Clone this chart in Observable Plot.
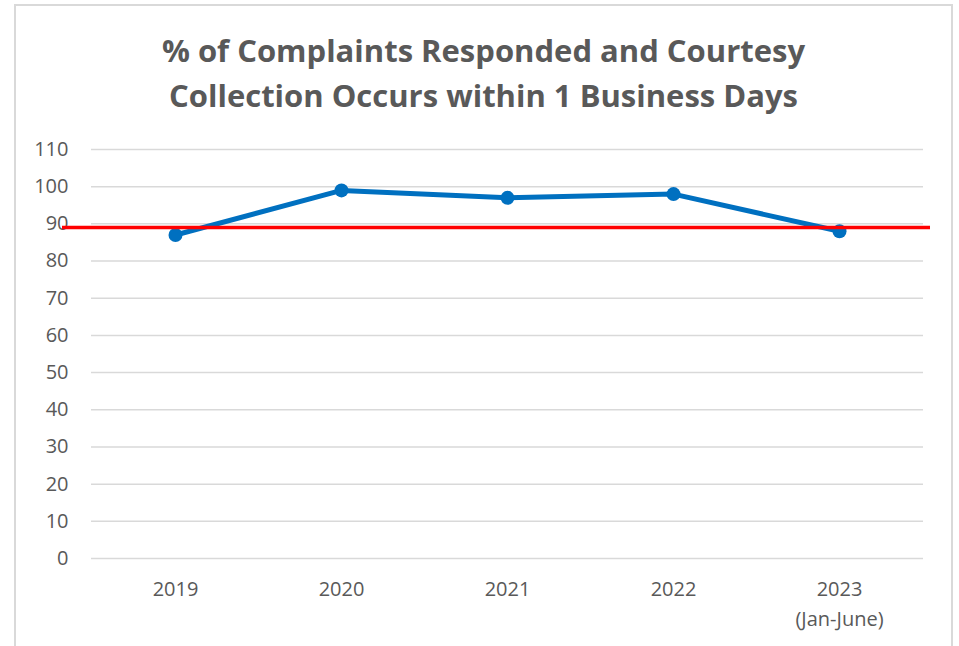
<!DOCTYPE html>
<html><head><meta charset="utf-8">
<script src="https://cdn.jsdelivr.net/npm/d3@7"></script>
<script src="https://cdn.jsdelivr.net/npm/@observablehq/plot@0.6"></script>
<style>
body{margin:0;background:#fff;}
#wrap{position:relative;width:959px;height:646px;overflow:hidden;background:#fff;}
#frame{position:absolute;left:14px;top:4px;width:939px;height:700px;border:2px solid #d9d9d9;box-sizing:border-box;}
#title{position:absolute;left:14px;width:939px;top:28px;text-align:center;font-family:"Open Sans";font-weight:bold;font-size:31px;color:#595959;line-height:45px;}
#chart{position:absolute;left:0;top:130px;}
</style></head><body>
<div id="wrap"><div id="frame"></div>
<div id="title">% of Complaints Responded and Courtesy<br>Collection Occurs within 1 Business Days</div>
<div id="chart"></div></div>
<script>
const years = ["2019", "2020", "2021", "2022", "2023"];
const yearLabels = ["2019", "2020", "2021", "2022", "2023\n(Jan-June)"];
const values = [87, 99, 97, 98, 88];
const target = 89;
const yTicks = [0, 10, 20, 30, 40, 50, 60, 70, 80, 90, 100, 110];

const data = years.map((y, i) => ({year: y, value: values[i]}));

const chart = Plot.plot({
  width: 959, height: 516,
  marginTop: 19, marginBottom: 88, marginLeft: 91, marginRight: 36,
  style: {fontFamily: "Open Sans", fontSize: "20px", color: "#595959", background: "transparent", overflow: "visible"},
  x: {type: "point", domain: years, padding: 0.5, label: null},
  y: {domain: [0, 110], label: null},
  marks: [
    Plot.gridY(yTicks, {stroke: "#d9d9d9", strokeOpacity: 1, strokeWidth: 1.5}),
    Plot.axisY(yTicks, {tickSize: 0, tickPadding: 23, label: null, fill: "#595959"}),
    Plot.axisX({tickSize: 0, tickPadding: 16, label: null, fill: "#595959", lineHeight: 1.5,
      tickFormat: d => yearLabels[years.indexOf(d)]}),
    Plot.line(data, {x: "year", y: "value", stroke: "#0070c0", strokeWidth: 5}),
    Plot.dot(data, {x: "year", y: "value", r: 7, fill: "#0070c0"}),
    Plot.ruleY([target], {stroke: "#ff0000", strokeWidth: 3.5, insetLeft: -29, insetRight: -7})
  ]
});
document.getElementById("chart").appendChild(chart);
</script>
</body></html>
